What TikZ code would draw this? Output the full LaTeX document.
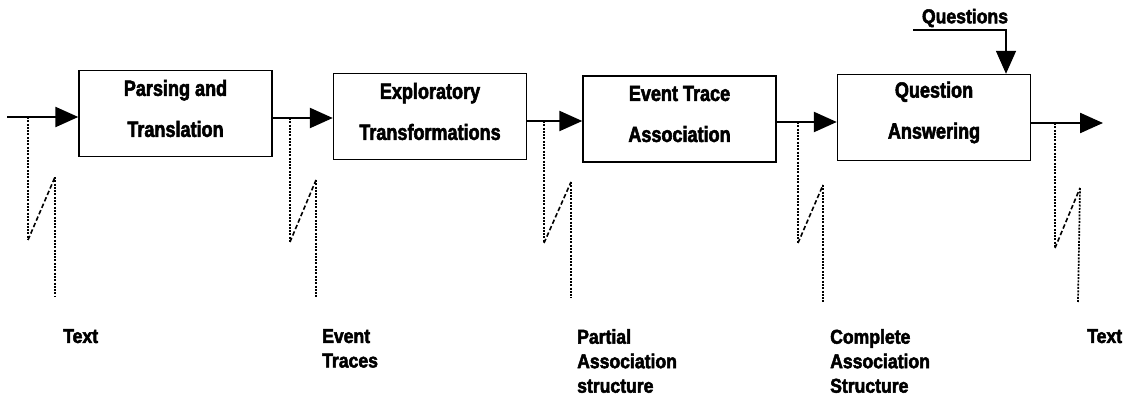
\documentclass[tikz,border=0pt]{standalone}
\usepackage{fontspec}
\newfontfamily\heavy[FakeStretch=0.82,FakeBold=2.5]{Liberation Sans Bold}
\newfontfamily\heavytag[FakeStretch=0.88,FakeBold=2.5]{Liberation Sans Bold}
\usetikzlibrary{arrows.meta}
\begin{document}
\begin{tikzpicture}[x=1pt,y=-1pt,
  stage/.style={draw, line width=1.4pt, minimum width=193pt, minimum height=86pt,
    inner sep=0pt},
  caption/.style={inner sep=0pt, align=center, font=\heavy\fontsize{22}{41}\selectfont},
  flow/.style={line width=2.4pt, -{Triangle[length=23pt,width=20pt]}},
  feed/.style={line width=1.6pt, -{Triangle[length=23pt,width=20pt]}},
  lead/.style={line width=1.7pt, dash pattern=on 2pt off 1.3pt},
  slant/.style={line width=1.6pt, dash pattern=on 4.5pt off 2.5pt},
  tag/.style={anchor=north west, inner sep=0pt, align=left,
    font=\heavytag\fontsize{20}{24.5}\selectfont}]
  \useasboundingbox (0,0) rectangle (1125,398);

  % processing stages
  \node[stage] (b1) at (175.5,113.5) {};
  \node[stage] (b2) at (430,116.5) {};
  \node[stage] (b3) at (679.5,119) {};
  \node[stage] (b4) at (934,117.5) {};
  \node[caption] (t1) at ([yshift=5pt]b1.center) {Parsing and\\Translation};
  \node[caption] (t2) at ([yshift=5pt]b2.center) {Exploratory\\Transformations};
  \node[caption] (t3) at ([yshift=5pt]b3.center) {Event Trace\\Association};
  \node[caption] (t4) at ([yshift=5pt]b4.center) {Question\\Answering};

  % main data flow
  \coordinate (src) at (7,117);
  \coordinate (dst) at (1103,123);
  \draw[flow] (src) -- (b1.west |- src);
  \draw[flow] (b1.east |- 0,118) -- (b2.west |- 0,118);
  \draw[flow] (b2.east |- 0,121) -- (b3.west |- 0,121);
  \draw[flow] (b3.east |- 0,122) -- (b4.west |- 0,122);
  \draw[flow] (b4.east |- dst) -- (dst);

  % question input
  \node[inner sep=0pt, font=\heavytag\fontsize{20}{22}\selectfont] (q) at (965,18) {Questions};
  \coordinate (qs) at (913,30);
  \coordinate (qx) at (1006,0);
  \draw[feed] (qs) -| (b4.north -| qx);

  % intermediate representations: broken leader lines
  \foreach \n/\xa/\ya/\yb/\xb/\yc/\xc/\yd in {
      1/28/117/240/55/177/55/297,
      2/290/118/242/316/180/316/298,
      3/544/121/243/571/182/571/298,
      4/798/122/243/823/185/823/302,
      5/1055/123/248/1080/188/1078/302} {
    \coordinate (p\n a) at (\xa,\ya);
    \coordinate (p\n b) at (\xa,\yb);
    \coordinate (p\n c) at (\xb,\yc);
    \coordinate (p\n d) at (\xc,\yd);
    \draw[lead] (p\n a) -- (p\n b);
    \draw[slant] (p\n b) -- (p\n c);
    \draw[lead] (p\n c) -- (p\n d);
  }

  % representation names
  \node[tag] (r1) at (63,329) {Text};
  \node[tag] (r2) at (322,329) {Event\\Traces};
  \node[tag] (r3) at (577,329) {Partial\\Association\\structure};
  \node[tag] (r4) at (830,329) {Complete\\Association\\Structure};
  \node[tag] (r5) at (1087,329) {Text};
\end{tikzpicture}
\end{document}
